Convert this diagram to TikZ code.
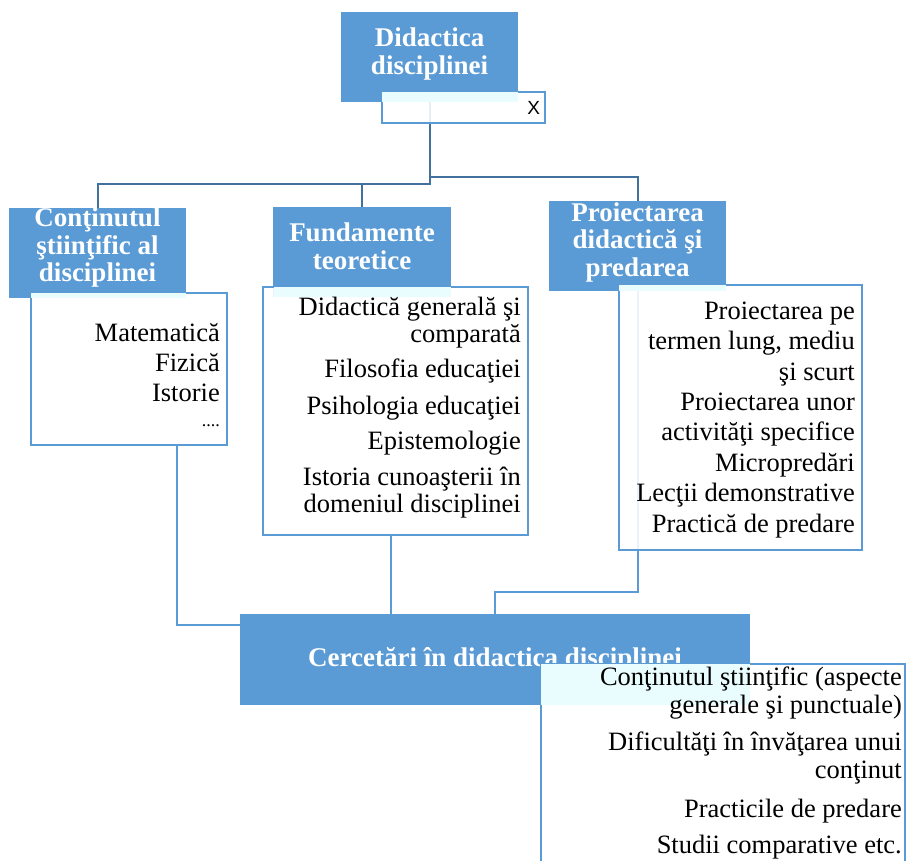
\documentclass[tikz,border=0pt]{standalone}
\usepackage{fontspec}
\setmainfont{Liberation Serif}
\newfontfamily\xfont{Liberation Sans}
\definecolor{headblue}{RGB}{91,155,213}
\definecolor{linkdark}{RGB}{65,113,156}
\definecolor{glowcyan}{RGB}{234,253,254}
\newcommand\headfont{\fontsize{27}{27.5}\selectfont\bfseries}
\newcommand\itemfont{\fontsize{26.5}{30}\selectfont}
\newcommand\sink[1]{\rule[-#1pt]{0pt}{#1pt}}
\tikzset{
  head/.style={fill=headblue, text=white, font=\headfont, align=center, inner sep=0pt},
  list/.style={draw=headblue, line width=2pt, fill=white, fill opacity=0.88, text opacity=1, inner sep=0pt},
  items/.style={font=\itemfont, align=right, anchor=north east, inner sep=0pt},
  glow/.style={fill=glowcyan},
  link/.style={draw=linkdark, line width=2pt},
  sublink/.style={draw=headblue, line width=2pt},
}
\begin{document}
\begin{tikzpicture}[x=1pt, y=-1pt]
    \useasboundingbox (0,0) rectangle (907,860);

    % Headings
    \node[head, minimum width=177pt, minimum height=90pt] (dd) at (429.5,57) {Didactica\\disciplinei\sink{12}};
    \node[head, minimum width=177pt, minimum height=90pt] (cs) at (97.5,253) {Conţinutul\\ştiinţific al\\disciplinei\sink{16}};
    \node[head, minimum width=178pt, minimum height=90pt] (ft) at (362,252) {Fundamente\\teoretice\sink{12}};
    \node[head, minimum width=177pt, minimum height=90pt] (pd) at (637.5,246) {Proiectarea\\didactică şi\\predarea\sink{13}};
    \node[head, minimum width=510pt, minimum height=91pt] (cd) at (495,659.5) {Cercetări în didactica disciplinei};

    % Links from the top heading
    \draw[link] (dd.south) -- ++(0,82) coordinate (fork) -| (cs.north);
    \draw[link] (fork -| ft.north) -- (ft.north);
    \draw[link] (dd.south) ++(0,75) -| (pd.north);
    \draw[sublink] (pd.south) -- ++(0,301) -| (cd.north);

    % Lists under the headings
    \node[list, minimum width=163pt, minimum height=31pt, text width=153pt, align=right,
          font=\xfont\fontsize{19}{20}\selectfont] (ddx) at (463.5,107.5) {X};
    \fill[glow] ([shift={(1pt,-1pt)}]ddx.north west) rectangle (dd.south east);

    \node[list, minimum width=196pt, minimum height=152pt] (csl) at (129,369) {};
    \fill[glow] ([shift={(1pt,-1pt)}]csl.north west) rectangle (cs.south east);
    \node[items] (csl-t) at (220,323.5) {Matematică\\Fizică\\Istorie\\[-5pt]{\fontsize{18}{18}\selectfont ....}};

    \node[list, minimum width=265pt, minimum height=248pt] (ftl) at (395.5,411) {};
    \fill[glow] ([shift={(1pt,-1pt)}]ftl.north west -| ft.west) rectangle (ft.south east);
    \node[items, font=\fontsize{26.5}{27}\selectfont] (ftl-t) at (521,296.5)
        {Didactică generală şi\\comparată\\[8pt]Filosofia educaţiei\\[10pt]Psihologia educaţiei\\[8pt]Epistemologie\\[9pt]Istoria cunoaşterii în\\domeniul disciplinei};

    \node[list, minimum width=243pt, minimum height=265pt] (pdl) at (740.5,417.5) {};
    \fill[glow] ([shift={(1pt,-1pt)}]pdl.north west) rectangle (pd.south east);
    \node[items, font=\fontsize{26.5}{30.4}\selectfont] (pdl-t) at (855,301.5)
        {Proiectarea pe\\termen lung, mediu\\şi scurt\\Proiectarea unor\\activităţi specifice\\Micropredări\\Lecţii demonstrative\\Practică de predare};

    \node[list, minimum width=364pt, minimum height=236pt] (cdl) at (723,782) {};
    \fill[glow] ([shift={(1pt,-1pt)}]cdl.north west) rectangle (cd.south east);
    \node[items, font=\fontsize{26.5}{28}\selectfont] (cdl-t) at (902,666.5)
        {Conţinutul ştiinţific (aspecte\\generale şi punctuale)\\[9pt]Dificultăţi în învăţarea unui\\conţinut\\[11pt]Practicile de predare\\[8pt]Studii comparative etc.};

    % Links into the research heading
    \draw[sublink] ([xshift=48pt]csl.south) |- ([yshift=-11pt]cd.north west);
    \draw[sublink] ([xshift=-5pt]ftl.south) -- ([xshift=-5pt]ftl.south |- cd.north);
\end{tikzpicture}
\end{document}
